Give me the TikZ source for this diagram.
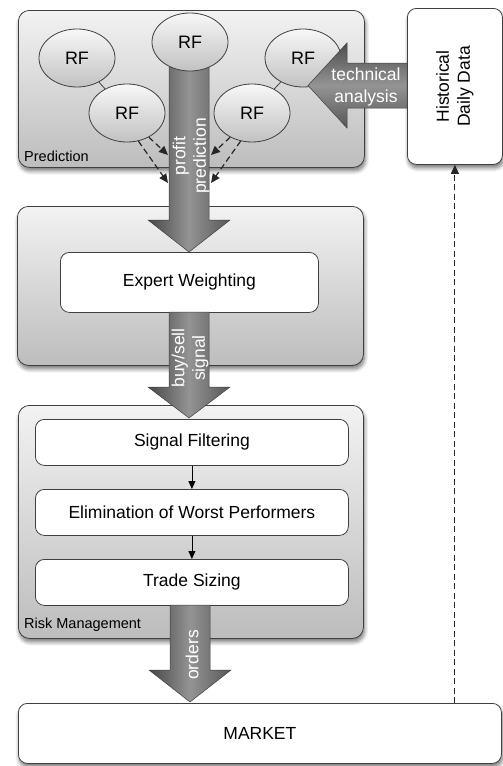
\documentclass[tikz,border=0pt]{standalone}
\usepackage{fontspec}
\setmainfont{Liberation Sans}
\usetikzlibrary{shadows,shadows.blur,arrows.meta,calc,shapes.geometric}
\newcommand{\myvarrow}[5]{% style, x center, start y, head y, tip y
  \path[#1] ($(#2,#3)+(-20,0)$) -- ($(#2,#4)+(-20,0)$) -- ($(#2,#4)+(-41,0)$) -- (#2,#5)
    -- ($(#2,#4)+(41,0)$) -- ($(#2,#4)+(20,0)$) -- ($(#2,#3)+(20,0)$) -- cycle;}
\begin{document}
\begin{tikzpicture}[x=1pt,y=-1pt,
  shadowed/.style={blur shadow={shadow blur steps=8, shadow xshift=1pt, shadow yshift=-3.5pt, shadow blur radius=4pt, shadow opacity=55}},
  graybox/.style={draw=black!75, line width=0.8pt, rounded corners=11pt, top color=black!5, bottom color=black!26,
    shadowed, anchor=north west, inner sep=0pt},
  whitebox/.style={draw=black!75, line width=0.8pt, rounded corners=9pt, fill=white, anchor=north west,
    inner sep=0pt, font=\fontsize{17.5}{20}\selectfont},
  rf/.style={ellipse, draw=black!75, line width=0.8pt, top color=black!3, bottom color=black!24,
    minimum width=76pt, minimum height=58pt, inner sep=0pt, font=\fontsize{18}{20}\selectfont},
  vbig/.style={draw=black!75, line width=0.5pt, left color=black!72, right color=black!66, middle color=black!42},
  hbig/.style={draw=black!75, line width=0.5pt, top color=black!70, bottom color=black!66, middle color=black!42},
  arrowtext/.style={text=white, font=\fontsize{17.5}{20.5}\selectfont, rotate=90, align=center, inner sep=0pt},
  lbl/.style={font=\fontsize{14.5}{16}\selectfont, anchor=base west, inner sep=0pt},
  dasharrow/.style={draw=black!85, dash pattern=on 6pt off 3.5pt, line width=1.2pt, -{Triangle[length=9pt,width=8pt]}},
  smallarrow/.style={line width=0.8pt, -{Triangle[length=8pt,width=7pt]}}
]
\useasboundingbox (0,0) rectangle (503,766);

% containers
\node[graybox, minimum width=346pt, minimum height=157pt] (pred) at (18,10) {};
\node[graybox, minimum width=346pt, minimum height=159pt] (mid) at (17,206) {};
\node[graybox, minimum width=345pt, minimum height=233pt] (risk) at (18,405) {};
\node[lbl] (predlbl) at (24,161) {Prediction};
\node[lbl] (risklbl) at (24,628) {Risk Management};

% white boxes
\node[whitebox, shadowed, minimum width=95pt, minimum height=156pt] (hist) at (407,8) {};
\node[rotate=90, align=center, font=\fontsize{17.5}{21}\selectfont, inner sep=0pt] (histtext) at (hist.center) {Historical\\Daily Data};
\node[whitebox, minimum width=258pt, minimum height=60pt] (ew) at (60,252) {};
\node (ewtext) at (ew.center) [font=\fontsize{17.5}{20}\selectfont] {Expert Weighting};
\node[whitebox, minimum width=313pt, minimum height=46pt] (sf) at (35,419) {};
\node (sftext) at (sf.center) [font=\fontsize{17.5}{20}\selectfont] {Signal Filtering};
\node[whitebox, minimum width=313pt, minimum height=46pt] (el) at (35,489) {};
\node (eltext) at (el.center) [font=\fontsize{17.5}{20}\selectfont] {Elimination of Worst Performers};
\node[whitebox, minimum width=313pt, minimum height=46pt] (ts) at (35,559) {};
\node (tstext) at (ts.center) [font=\fontsize{17.5}{20}\selectfont] {Trade Sizing};
\node[whitebox, shadowed, minimum width=483pt, minimum height=60pt] (market) at (18,703) {};
\node (markettext) at (market.center) [font=\fontsize{17.5}{20}\selectfont] {MARKET};

% big arrows
\myvarrow{vbig}{189}{55}{220}{252}
\myvarrow{vbig}{189}{312}{387}{418}
\myvarrow{vbig}{190}{605}{670}{702}
\node[arrowtext] (profit) at (191,156) {profit\\prediction};
\node[arrowtext] (buysell) at (190,358) {buy/sell\\signal};
\node[arrowtext] (orders) at (192,655) {orders};

% RF ellipses
\node[rf] (rf1) at (77,58) {RF};
\node[rf] (rf2) at (127,113) {RF};
\node[rf] (rf3) at (190,42) {RF};
\node[rf] (rf4) at (252,113) {RF};
\node[rf] (rf5) at (303,58) {RF};
\draw[line width=0.8pt, draw=black!75] (rf1) -- (rf2);
\draw[line width=0.8pt, draw=black!75] (rf5) -- (rf4);

% technical analysis arrow
\path[hbig] (407,63) -- (347,63) -- (347,43) -- (308,85.5) -- (347,128) -- (347,108) -- (407,108) -- cycle;
\node[text=white, font=\fontsize{17.5}{21.5}\selectfont, align=center, inner sep=0pt] (tech) at (366,87) {technical\\analysis};

% dashed arrows into the profit arrow
\coordinate (pl1) at (168,155);
\coordinate (pl2) at (168,183);
\coordinate (pr1) at (211,155);
\coordinate (pr2) at (211,183);
\draw[dasharrow] (rf2.-48) -- (pl1);
\draw[dasharrow] (rf2.-68) -- (pl2);
\draw[dasharrow] (rf4.-132) -- (pr1);
\draw[dasharrow] (rf4.-112) -- (pr2);

% small arrows
\draw[smallarrow] (sf.south) -- (el.north);
\draw[smallarrow] (el.south) -- (ts.north);

% feedback dashed arrow
\draw[dasharrow, line width=1pt] (market.north -| hist.south) -- (hist.south);
\end{tikzpicture}
\end{document}
